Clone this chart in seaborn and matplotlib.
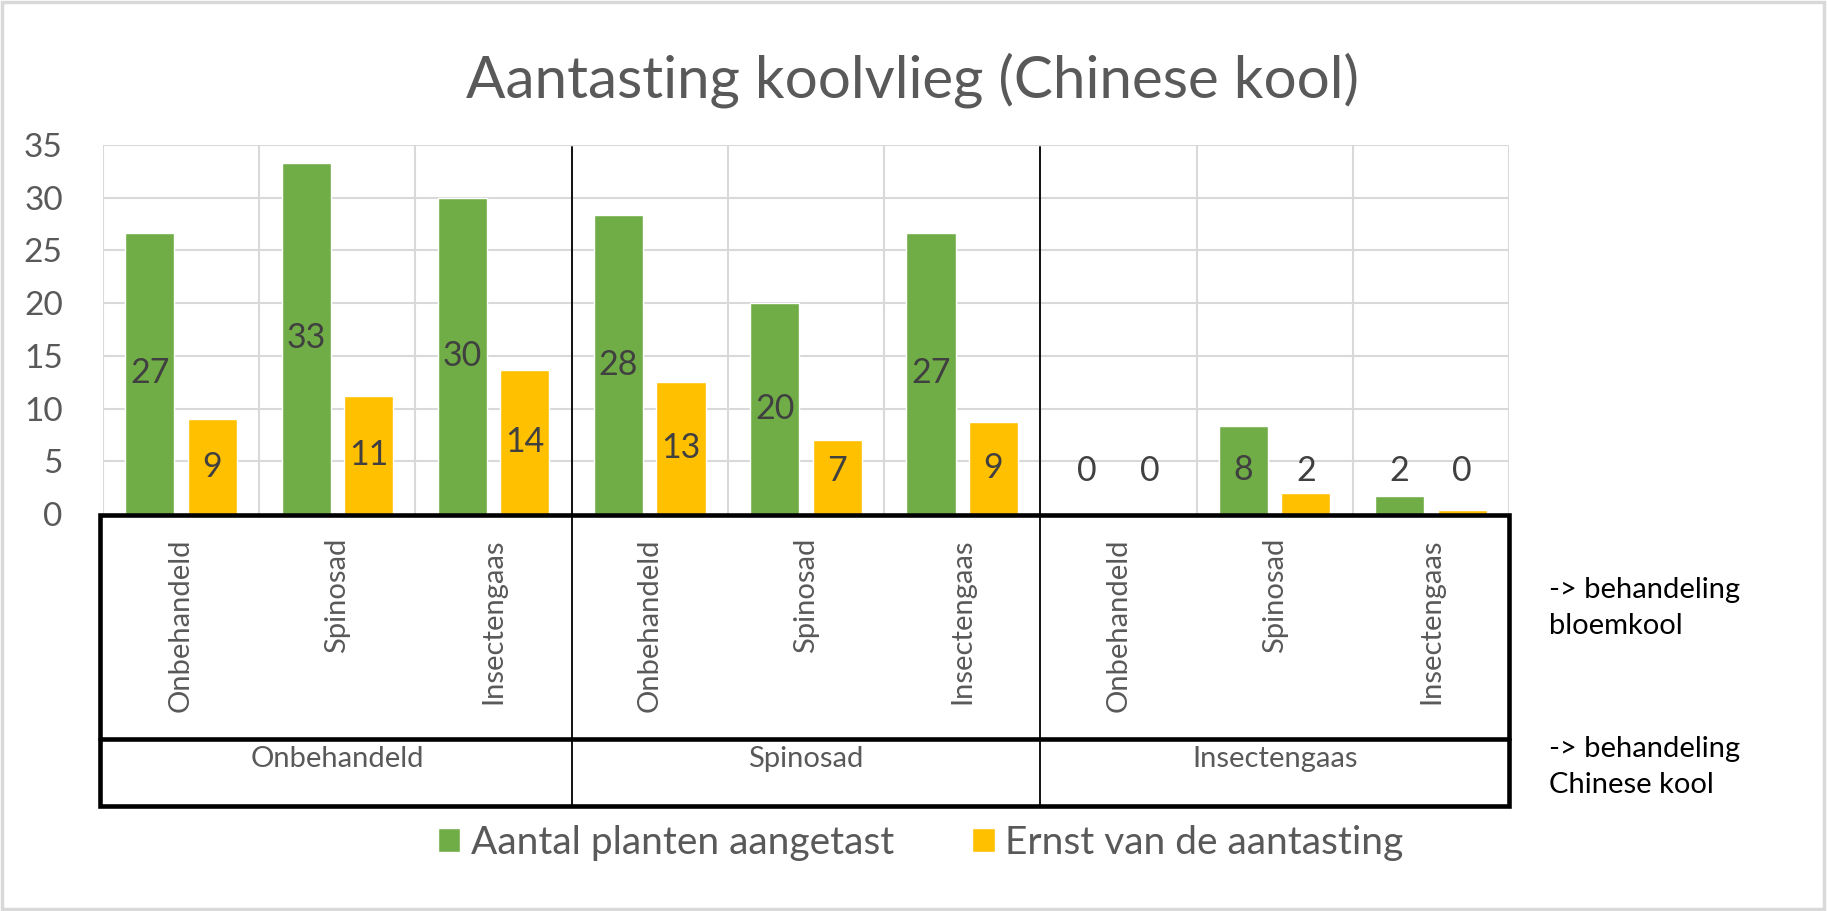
import matplotlib
matplotlib.use("Agg")
import matplotlib.pyplot as plt
import matplotlib.transforms as mtransforms
from matplotlib.patches import Rectangle
from matplotlib.lines import Line2D
import numpy as np
import pandas as pd
import seaborn as sns

# data
bloemkool = ['Onbehandeld', 'Spinosad', 'Insectengaas'] * 3
chinese_kool = ['Onbehandeld', 'Spinosad', 'Insectengaas']
aangetast = [26.67, 33.33, 30.0, 28.33, 20.0, 26.67, 0.0, 8.33, 1.67]
ernst = [9.0, 11.2, 13.7, 12.5, 7.0, 8.7, 0.0, 2.0, 0.4]
series = ['Aantal planten aangetast', 'Ernst van de aantasting']
yticks = [0, 5, 10, 15, 20, 25, 30, 35]

colors = ['#70AD47', '#FFC000']
grey_txt = '#595959'
grid_col = '#D9D9D9'

W, H = 1828, 911
sns.set_theme(style='white')
plt.rcParams['font.family'] = ['Lato', 'DejaVu Sans']


def fx(px):
    return px / W


def fy(py):
    return 1 - py / H


fig = plt.figure(figsize=(W / 100, H / 100), dpi=100)
ax = fig.add_axes([fx(103), fy(514), (1509 - 103) / W, (514 - 145) / H])

pos = [str(i) for i in range(len(aangetast))]
df = pd.DataFrame({
    'pos': pos * 2,
    'waarde': aangetast + ernst,
    'reeks': [series[0]] * len(pos) + [series[1]] * len(pos),
})
sns.barplot(data=df, x='pos', y='waarde', hue='reeks', order=pos, hue_order=series,
            palette=colors, width=0.8, gap=0.215, saturation=1, errorbar=None, ax=ax)

ax.set_xlim(-0.5, len(pos) - 0.5)
ax.set_ylim(0, 35)
ax.set_yticks(yticks)
ax.set_yticklabels([str(t) for t in yticks])
ax.tick_params(axis='y', length=0, pad=29, labelsize=24, labelcolor=grey_txt)
ax.set_xticks([])
ax.set_xlabel('')
ax.set_ylabel('')
for t in yticks[1:]:
    ax.axhline(t, color=grid_col, lw=1.5, zorder=0)
for b in np.arange(-0.5, len(pos), 1.0):
    ax.axvline(b, color=grid_col, lw=1.5, zorder=0)
for s in ax.spines.values():
    s.set_visible(False)

# data labels
for cont in ax.containers:
    for bar in cont:
        v = bar.get_height()
        y = v / 2 if v / 2 > 4.1 else 4.1
        ax.text(bar.get_x() + bar.get_width() / 2, y, str(int(np.floor(v + 0.5))),
                ha='center', va='center', fontsize=24.5, color='#404040')

# category labels below the axis
blend = mtransforms.blended_transform_factory(ax.transData, fig.transFigure)
for i, lab in enumerate(bloemkool):
    fig.text(i, fy(538), lab, transform=blend, rotation=90, ha='center', va='top',
             fontsize=21, color=grey_txt)
for g, lab in enumerate(chinese_kool):
    fig.text(g * 3 + 1, fy(767), lab, transform=blend, ha='center', va='baseline',
             fontsize=21, color=grey_txt)

# boxes round the axis labels
fig.add_artist(Rectangle((fx(100), fy(806)), (1509 - 100) / W, (806 - 515) / H,
                         transform=fig.transFigure, fill=False, ec='black', lw=3.3))
fig.add_artist(Line2D([fx(100), fx(1509)], [fy(739), fy(739)], transform=fig.transFigure,
                      color='black', lw=3.3))
for b in [2.5, 5.5]:
    fig.add_artist(Line2D([b, b], [fy(147), fy(806)], transform=blend, color='black', lw=1.3))

# notes on the right
for txt, yy in [('-> behandeling', 598), ('bloemkool', 634),
                ('-> behandeling', 757), ('Chinese kool', 793)]:
    fig.text(fx(1549), fy(yy), txt, ha='left', va='baseline', fontsize=21, color='black')

# title
fig.text(fx(912), fy(97), 'Aantasting koolvlieg (Chinese kool)', ha='center', va='baseline',
         fontsize=42, color=grey_txt)

# legend
handles, labels = ax.get_legend_handles_labels()
ax.get_legend().remove()
fig.legend(handles, labels, loc='center', bbox_to_anchor=(fx(921), fy(843)), ncol=2,
           frameon=False, fontsize=28, labelcolor=grey_txt, handlelength=0.57,
           handleheight=0.57, handletextpad=0.28, columnspacing=2.0)

# outer chart border
fig.add_artist(Rectangle((0.001, 0.002), 0.997, 0.996, transform=fig.transFigure,
                         fill=False, ec=grid_col, lw=2.5))

fig.savefig('out.png', dpi=100, facecolor='white')
